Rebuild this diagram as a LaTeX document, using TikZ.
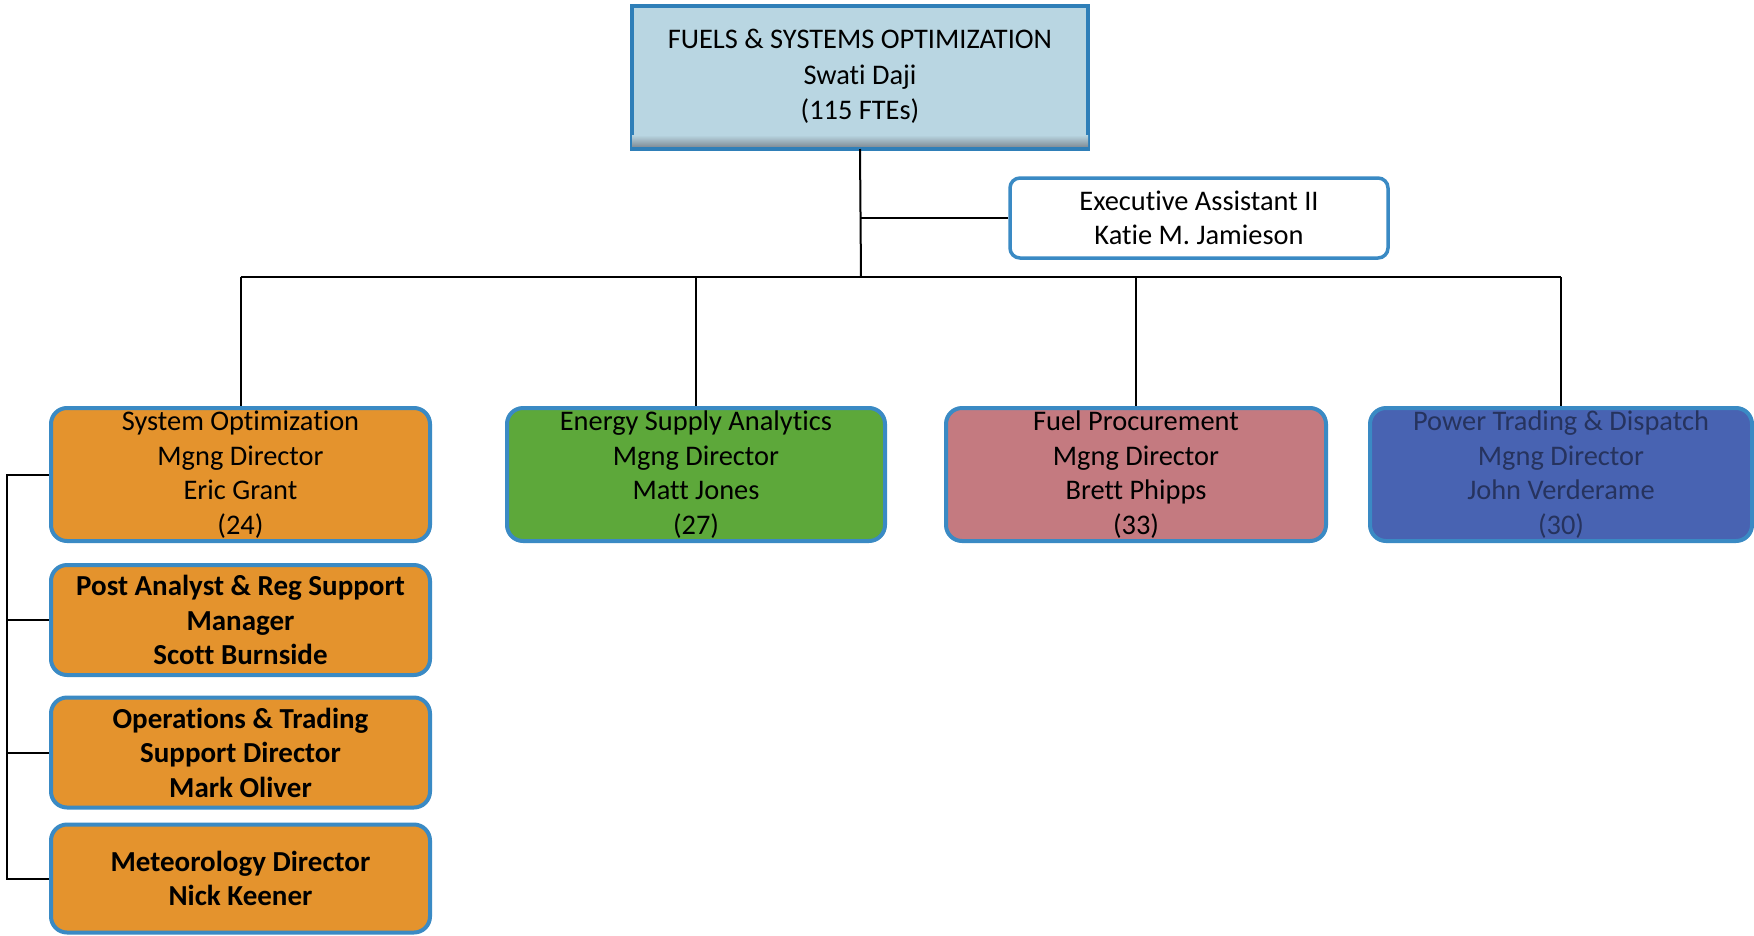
\documentclass[tikz,border=0pt]{standalone}
\usepackage{fontspec}
\setmainfont{Carlito}[Ligatures=NoCommon]
\begin{document}
\begin{tikzpicture}[x=1pt,y=-1pt,
  every node/.style={align=center,inner sep=0pt,font=\fontsize{28.4}{34.5}\selectfont},
  unit/.style={draw=edgeblue,line width=4pt,rounded corners=16pt,minimum height=133pt},
  subunit/.style={unit,minimum height=110pt,font=\fontsize{29}{34.5}\selectfont\bfseries},
  link/.style={draw=black,line width=2pt}]
\definecolor{edgeblue}{HTML}{3A8AC4}
\definecolor{topfill}{HTML}{B9D6E2}
\definecolor{topedge}{HTML}{2F7FB8}
\definecolor{topshade}{HTML}{7F8C96}
\definecolor{orangefill}{HTML}{E4932D}
\definecolor{greenfill}{HTML}{5DA83A}
\definecolor{pinkfill}{HTML}{C47A80}
\definecolor{bluefill}{HTML}{4863B2}
\definecolor{bluetext}{HTML}{26335E}
\useasboundingbox (0,0) rectangle (1754,935);
\fill[white] (0,0) rectangle (1754,935);

% head of the organisation, with a darker band along its lower edge
\node[draw=topedge,fill=topfill,line width=4pt,minimum width=456pt,minimum height=141pt,
      font=\fontsize{28.4}{35.5}\selectfont] (top) at (860,76.5)
  {FUELS \& SYSTEMS OPTIMIZATION\\Swati Daji\\(115 FTEs)};
\shade[top color=topfill,bottom color=topshade]
  ([xshift=2pt,yshift=14pt]top.south west) rectangle ([xshift=-2pt,yshift=2pt]top.south east);
\draw[topedge,line width=4pt] (top.south west) -- (top.south east);
\node[draw=edgeblue,fill=white,line width=3.5pt,rounded corners=10pt,minimum width=378pt,
      minimum height=80pt] (exec) at (1199,218)
  {Executive Assistant II\\Katie M. Jamieson};

% managing directors
\node[unit,fill=orangefill,minimum width=379pt] (so) at (240.5,474.5)
  {System Optimization\\Mgng Director\\Eric Grant\\(24)};
\node[unit,fill=greenfill,minimum width=378pt] (esa) at (696,474.5)
  {Energy Supply Analytics\\Mgng Director\\Matt Jones\\(27)};
\node[unit,fill=pinkfill,minimum width=380pt] (fp) at (1136,474.5)
  {Fuel Procurement\\Mgng Director\\Brett Phipps\\(33)};
\node[unit,fill=bluefill,minimum width=382pt,text=bluetext] (pt) at (1561,474.5)
  {Power Trading \& Dispatch\\Mgng Director\\John Verderame\\(30)};

% units under System Optimization
\node[subunit,fill=orangefill,minimum width=379pt] (pa) at (240.5,620)
  {Post Analyst \& Reg Support\\Manager\\Scott Burnside};
\node[subunit,fill=orangefill,minimum width=379pt] (ot) at (240.5,752.5)
  {Operations \& Trading\\Support Director\\Mark Oliver};
\node[subunit,fill=orangefill,minimum width=379pt,minimum height=108pt] (mt) at (240.5,878.5)
  {Meteorology Director\\Nick Keener};

% connectors
\coordinate (bus) at (861,277);
\coordinate (rail) at (7,474.5);
\draw[link] (top.south) -- (bus);
\draw[link] (top.south |- exec.west) -- (exec.west);
\draw[link] (so.north |- bus) -- (pt.north |- bus);
\foreach \n in {so,esa,fp,pt}
  \draw[link] (\n.north |- bus) -- (\n.north);
\draw[link] (so.west) -- (rail) |- (mt.west);
\draw[link] (pa.west -| rail) -- (pa.west);
\draw[link] (ot.west -| rail) -- (ot.west);
\end{tikzpicture}
\end{document}
